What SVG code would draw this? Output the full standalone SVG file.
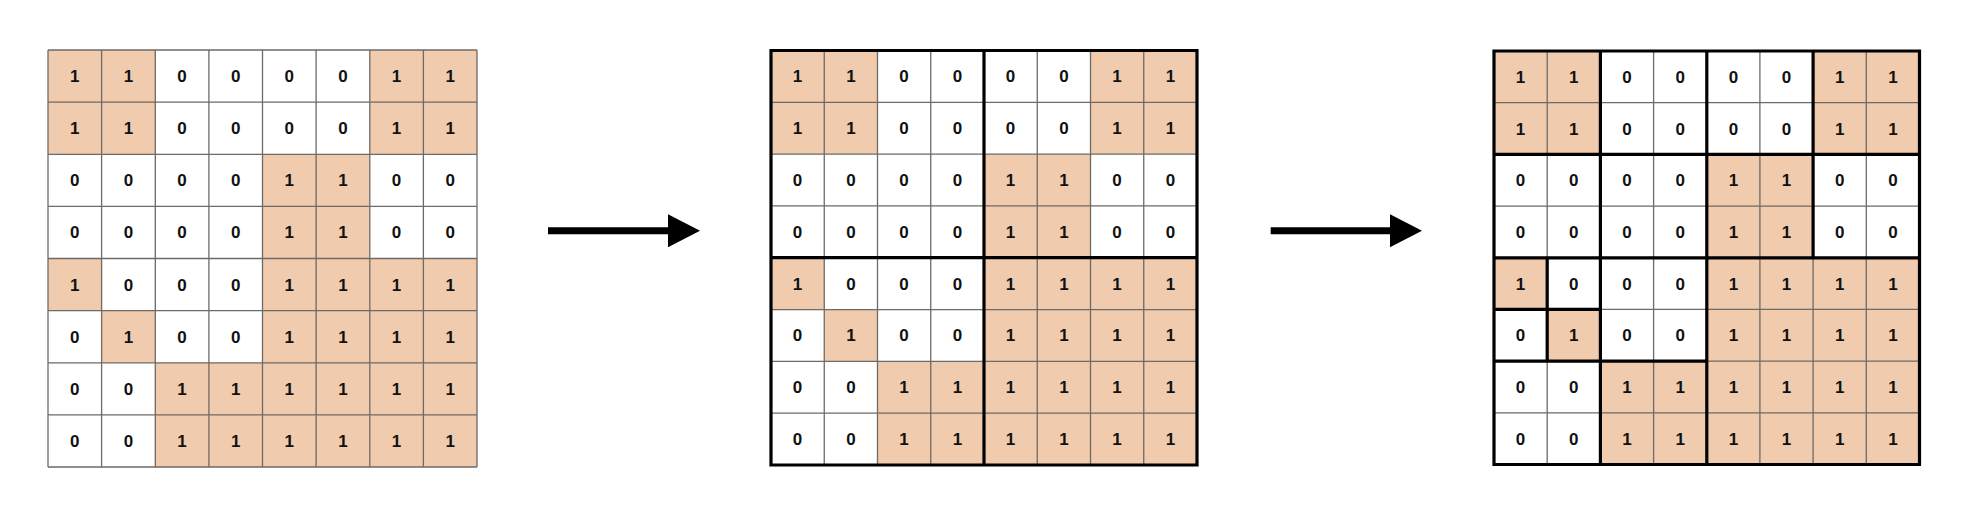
<svg xmlns="http://www.w3.org/2000/svg" width="1979" height="514" viewBox="0 0 1979 514">
<style>
.bg{fill:#ffffff}
.on{fill:#f0cbae}
.thin{fill:none;stroke:#6e6a66;stroke-width:1.3}
.thick{fill:none;stroke:#000;stroke-width:3.2;stroke-linecap:square}
text{font-family:"Liberation Sans",Arial,sans-serif;font-size:17px;font-weight:bold;fill:#111;text-anchor:middle}
.arrow{stroke:#000;stroke-width:7;fill:none}
</style>
<defs>
<marker id="head" markerUnits="userSpaceOnUse" markerWidth="34" markerHeight="34" refX="0" refY="16.5" orient="auto">
<path d="M0,0 L32,16.5 L0,33 Z" fill="#000"/>
</marker>
</defs>
<rect class="bg" x="0" y="0" width="1979" height="514"/>

<g id="grid-input">
<rect class="on" x="48" y="50" width="107.25" height="104.25"/>
<rect class="on" x="369.75" y="50" width="107.25" height="104.25"/>
<rect class="on" x="262.5" y="154.25" width="107.25" height="104.25"/>
<rect class="on" x="48" y="258.5" width="53.625" height="52.125"/>
<rect class="on" x="101.625" y="310.625" width="53.625" height="52.125"/>
<rect class="on" x="262.5" y="258.5" width="214.5" height="208.5"/>
<rect class="on" x="155.25" y="362.75" width="107.25" height="104.25"/>
<path class="thin" d="M48,50V467M101.6,50V467M155.3,50V467M208.9,50V467M262.5,50V467M316.1,50V467M369.8,50V467M423.4,50V467M477,50V467M48,50H477M48,102.1H477M48,154.3H477M48,206.4H477M48,258.5H477M48,310.6H477M48,362.8H477M48,414.9H477M48,467H477"/>
<g transform="translate(0,82.1)"><text x="74.8">1</text><text x="128.4">1</text><text x="182.1">0</text><text x="235.7">0</text><text x="289.3">0</text><text x="342.9">0</text><text x="396.6">1</text><text x="450.2">1</text></g>
<g transform="translate(0,134.2)"><text x="74.8">1</text><text x="128.4">1</text><text x="182.1">0</text><text x="235.7">0</text><text x="289.3">0</text><text x="342.9">0</text><text x="396.6">1</text><text x="450.2">1</text></g>
<g transform="translate(0,186.3)"><text x="74.8">0</text><text x="128.4">0</text><text x="182.1">0</text><text x="235.7">0</text><text x="289.3">1</text><text x="342.9">1</text><text x="396.6">0</text><text x="450.2">0</text></g>
<g transform="translate(0,238.4)"><text x="74.8">0</text><text x="128.4">0</text><text x="182.1">0</text><text x="235.7">0</text><text x="289.3">1</text><text x="342.9">1</text><text x="396.6">0</text><text x="450.2">0</text></g>
<g transform="translate(0,290.6)"><text x="74.8">1</text><text x="128.4">0</text><text x="182.1">0</text><text x="235.7">0</text><text x="289.3">1</text><text x="342.9">1</text><text x="396.6">1</text><text x="450.2">1</text></g>
<g transform="translate(0,342.7)"><text x="74.8">0</text><text x="128.4">1</text><text x="182.1">0</text><text x="235.7">0</text><text x="289.3">1</text><text x="342.9">1</text><text x="396.6">1</text><text x="450.2">1</text></g>
<g transform="translate(0,394.8)"><text x="74.8">0</text><text x="128.4">0</text><text x="182.1">1</text><text x="235.7">1</text><text x="289.3">1</text><text x="342.9">1</text><text x="396.6">1</text><text x="450.2">1</text></g>
<g transform="translate(0,446.9)"><text x="74.8">0</text><text x="128.4">0</text><text x="182.1">1</text><text x="235.7">1</text><text x="289.3">1</text><text x="342.9">1</text><text x="396.6">1</text><text x="450.2">1</text></g>
</g>

<g id="grid-quadrants">
<rect class="on" x="771" y="50.5" width="106.5" height="103.6"/>
<rect class="on" x="1090.5" y="50.5" width="106.5" height="103.6"/>
<rect class="on" x="984" y="154.1" width="106.5" height="103.6"/>
<rect class="on" x="771" y="257.7" width="53.25" height="51.8"/>
<rect class="on" x="824.25" y="309.5" width="53.25" height="51.8"/>
<rect class="on" x="984" y="257.7" width="213" height="207.3"/>
<rect class="on" x="877.5" y="361.3" width="106.5" height="103.7"/>
<path class="thin" d="M824.25,50.5V465M877.5,50.5V465M930.75,50.5V465M1037.25,50.5V465M1090.5,50.5V465M1143.75,50.5V465M771,102.3H1197M771,154.1H1197M771,205.9H1197M771,309.6H1197M771,361.4H1197M771,413.2H1197"/>
<path class="thick" d="M771,50.5H1197V465H771ZM984,50.5V465M771,257.7H1197"/>
<g transform="translate(0,82.4)"><text x="797.6">1</text><text x="850.9">1</text><text x="904.1">0</text><text x="957.4">0</text><text x="1010.6">0</text><text x="1063.9">0</text><text x="1117.1">1</text><text x="1170.4">1</text></g>
<g transform="translate(0,134.2)"><text x="797.6">1</text><text x="850.9">1</text><text x="904.1">0</text><text x="957.4">0</text><text x="1010.6">0</text><text x="1063.9">0</text><text x="1117.1">1</text><text x="1170.4">1</text></g>
<g transform="translate(0,186)"><text x="797.6">0</text><text x="850.9">0</text><text x="904.1">0</text><text x="957.4">0</text><text x="1010.6">1</text><text x="1063.9">1</text><text x="1117.1">0</text><text x="1170.4">0</text></g>
<g transform="translate(0,237.8)"><text x="797.6">0</text><text x="850.9">0</text><text x="904.1">0</text><text x="957.4">0</text><text x="1010.6">1</text><text x="1063.9">1</text><text x="1117.1">0</text><text x="1170.4">0</text></g>
<g transform="translate(0,289.6)"><text x="797.6">1</text><text x="850.9">0</text><text x="904.1">0</text><text x="957.4">0</text><text x="1010.6">1</text><text x="1063.9">1</text><text x="1117.1">1</text><text x="1170.4">1</text></g>
<g transform="translate(0,341.4)"><text x="797.6">0</text><text x="850.9">1</text><text x="904.1">0</text><text x="957.4">0</text><text x="1010.6">1</text><text x="1063.9">1</text><text x="1117.1">1</text><text x="1170.4">1</text></g>
<g transform="translate(0,393.2)"><text x="797.6">0</text><text x="850.9">0</text><text x="904.1">1</text><text x="957.4">1</text><text x="1010.6">1</text><text x="1063.9">1</text><text x="1117.1">1</text><text x="1170.4">1</text></g>
<g transform="translate(0,445)"><text x="797.6">0</text><text x="850.9">0</text><text x="904.1">1</text><text x="957.4">1</text><text x="1010.6">1</text><text x="1063.9">1</text><text x="1117.1">1</text><text x="1170.4">1</text></g>
</g>

<g id="grid-quadtree">
<rect class="on" x="1494" y="51" width="106.4" height="103.4"/>
<rect class="on" x="1813.1" y="51" width="106.4" height="103.4"/>
<rect class="on" x="1706.8" y="154.4" width="106.3" height="103.4"/>
<rect class="on" x="1494" y="257.8" width="53.2" height="51.6"/>
<rect class="on" x="1547.2" y="309.4" width="53.2" height="51.7"/>
<rect class="on" x="1706.8" y="257.8" width="212.7" height="206.7"/>
<rect class="on" x="1600.4" y="361.1" width="106.4" height="103.4"/>
<path class="thin" d="M1547.2,51V464.5M1653.6,51V464.5M1759.9,51V464.5M1813.1,51V464.5M1866.3,51V464.5M1494,102.7H1919.5M1494,206.1H1919.5M1494,309.4H1919.5M1494,361.1H1919.5M1494,412.8H1919.5"/>
<path class="thick" d="M1494,51H1919.5V464.5H1494ZM1706.8,51V464.5M1494,257.8H1919.5M1600.4,51V464.5M1494,154.4H1919.5M1813.1,51V257.8M1494,361.1H1706.8M1547.2,257.8V361.1M1494,309.4H1600.4"/>
<g transform="translate(0,82.8)"><text x="1520.6">1</text><text x="1573.8">1</text><text x="1627">0</text><text x="1680.2">0</text><text x="1733.4">0</text><text x="1786.5">0</text><text x="1839.7">1</text><text x="1892.9">1</text></g>
<g transform="translate(0,134.5)"><text x="1520.6">1</text><text x="1573.8">1</text><text x="1627">0</text><text x="1680.2">0</text><text x="1733.4">0</text><text x="1786.5">0</text><text x="1839.7">1</text><text x="1892.9">1</text></g>
<g transform="translate(0,186.2)"><text x="1520.6">0</text><text x="1573.8">0</text><text x="1627">0</text><text x="1680.2">0</text><text x="1733.4">1</text><text x="1786.5">1</text><text x="1839.7">0</text><text x="1892.9">0</text></g>
<g transform="translate(0,237.9)"><text x="1520.6">0</text><text x="1573.8">0</text><text x="1627">0</text><text x="1680.2">0</text><text x="1733.4">1</text><text x="1786.5">1</text><text x="1839.7">0</text><text x="1892.9">0</text></g>
<g transform="translate(0,289.6)"><text x="1520.6">1</text><text x="1573.8">0</text><text x="1627">0</text><text x="1680.2">0</text><text x="1733.4">1</text><text x="1786.5">1</text><text x="1839.7">1</text><text x="1892.9">1</text></g>
<g transform="translate(0,341.3)"><text x="1520.6">0</text><text x="1573.8">1</text><text x="1627">0</text><text x="1680.2">0</text><text x="1733.4">1</text><text x="1786.5">1</text><text x="1839.7">1</text><text x="1892.9">1</text></g>
<g transform="translate(0,393)"><text x="1520.6">0</text><text x="1573.8">0</text><text x="1627">1</text><text x="1680.2">1</text><text x="1733.4">1</text><text x="1786.5">1</text><text x="1839.7">1</text><text x="1892.9">1</text></g>
<g transform="translate(0,444.7)"><text x="1520.6">0</text><text x="1573.8">0</text><text x="1627">1</text><text x="1680.2">1</text><text x="1733.4">1</text><text x="1786.5">1</text><text x="1839.7">1</text><text x="1892.9">1</text></g>
</g>

<g id="connectors">
<line class="arrow" x1="548" y1="230.7" x2="668" y2="230.7" marker-end="url(#head)"/>
<line class="arrow" x1="1270.7" y1="230.7" x2="1390" y2="230.7" marker-end="url(#head)"/>
</g>
</svg>
